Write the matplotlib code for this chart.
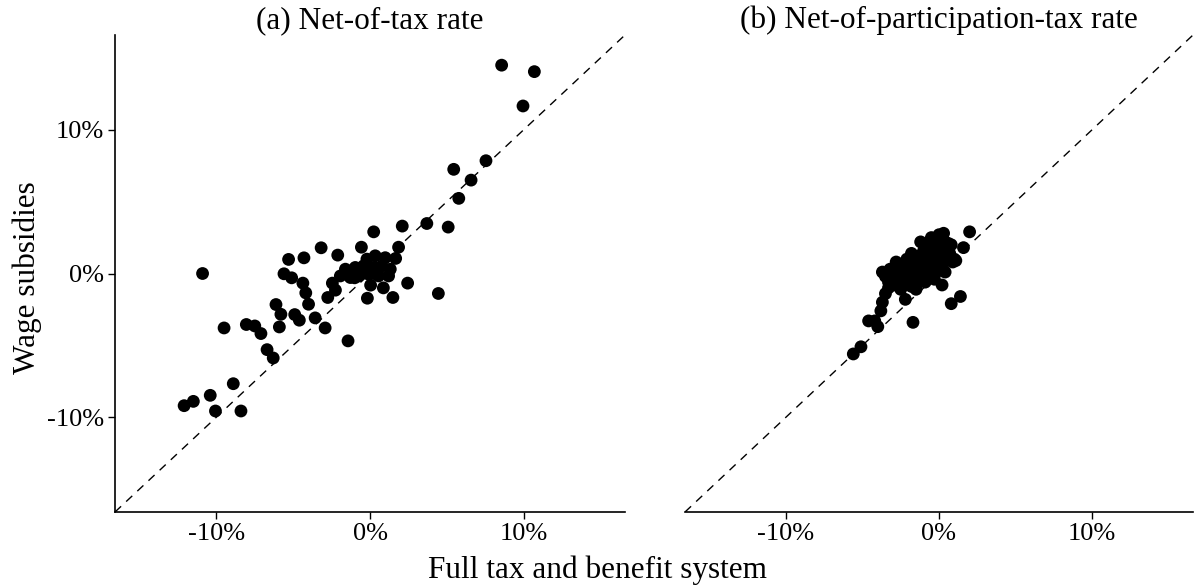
import matplotlib
matplotlib.use("Agg")
import matplotlib.pyplot as plt

plt.rcParams['font.family'] = ['Liberation Serif', 'DejaVu Serif']

titles = ["(a) Net-of-tax rate", "(b) Net-of-participation-tax rate"]
xlabel = "Full tax and benefit system"
ylabel = "Wage subsidies"
tick_vals = [-10, 0, 10]
tick_labels = ["-10%", "0%", "10%"]
lim = 16.6

# Panel (a): (full system, wage subsidies) in %
a_x = [8.57, 10.7, 9.96, 7.55, 5.45, 6.58, 5.78, 2.1, 3.7, 5.09, 0.24, 1.86, -0.56, -3.18,
       -2.1, -4.3, -5.3, -10.9, 1.67, -5.6, -5.1, -4.37, -4.18, -4.0, -6.12, -5.8, -4.9,
       -4.6, -3.57, -2.92, -5.9, -9.5, -8.05, -7.5, -7.1, -6.7, -6.3, -1.43, -8.9, -10.4,
       -11.5, -12.1, -10.06, -8.4, -2.75, -2.45, -2.25, -0.17, 1.49, 2.45, 4.45, 0.87, 0.04,
       -0.2, 0.34, 0.99, -1.6, -0.96, -0.42, 0.24, 0.78, 1.32, -1.93, -1.28, -0.74, -0.09,
       0.56, 1.21, -1.0, 0.3]
a_y = [14.5, 14.05, 11.66, 7.85, 7.25, 6.5, 5.23, 3.3, 3.48, 3.23, 2.9, 1.83, 1.83, 1.79,
       1.28, 1.09, 0.98, 0.0, 1.05, -0.02, -0.3, -0.67, -1.35, -2.14, -2.16, -2.84, -2.86,
       -3.25, -3.09, -3.79, -3.72, -3.79, -3.55, -3.65, -4.18, -5.3, -5.88, -4.69, -7.67, -8.48,
       -8.9, -9.2, -9.57, -9.57, -1.67, -0.67, -1.16, -1.72, -1.67, -0.67, -1.39, -1.0, -0.81,
       1.0, 1.23, 1.1, 0.3, 0.42, 0.53, 0.42, 0.53, 0.3, -0.17, -0.28, -0.17, -0.05,
       -0.17, -0.17, -0.3, 0.0]

# Panel (b)
b_x = [-5.6, -5.1, -4.6, -4.0, -4.2, -3.8, -3.7, -3.5, -3.3, -1.7, -2.2,
       -3.7, -3.5, -3.3, -3.2, -3.0, -2.9, -2.8, -2.7, -2.6, -2.5, -2.4, -2.3, -2.2, -2.1,
       -2.0, -1.9, -1.8, -1.8, -1.7, -1.6, -1.5, -1.4, -1.3, -1.2, -1.2, -1.1, -1.0, -0.9,
       -0.9, -0.8, -0.7, -0.6, -0.6, -0.5, -0.5, -0.4, -0.3, -0.3, -0.2, -0.2, -0.1, 0.0,
       0.0, 0.1, 0.1, 0.2, 0.2, 0.3, 0.3, 0.4, 0.4, 0.5, 0.6, 0.7, 0.8, 0.9, 1.0, 1.1,
       1.4, 0.8, 1.6, 2.0]
b_y = [-5.6, -5.1, -3.3, -3.7, -3.3, -2.6, -2.0, -1.4, -1.0, -3.4, -1.8,
       0.1, -0.2, -0.6, 0.3, -0.3, -0.8, 0.8, 0.2, -0.5, -1.1, 0.5, -0.1, -0.7, 1.0,
       0.3, -0.3, 1.4, -0.9, 0.7, 0.0, -1.1, 1.2, 0.4, 2.2, -0.4, 0.9, 1.6, 0.1,
       -0.6, 1.3, 0.6, 2.0, -0.2, 2.5, 1.0, 0.3, 1.7, -0.4, 2.3, 0.8, 1.3, 2.7,
       0.2, 1.9, 0.6, -0.8, 1.1, 2.8, 2.3, 0.1, 1.6, 0.9, 2.1, 1.4, 2.0, 0.8, 1.0, 0.9,
       -1.6, -2.1, 1.8, 2.9]

fig = plt.figure(figsize=(11.94, 5.88), dpi=100)
W, H = 1194, 588
ax1 = fig.add_axes([115 / W, 1 - 512 / H, 510 / W, 477 / H])
ax2 = fig.add_axes([685 / W, 1 - 512 / H, 508 / W, 477 / H])

for ax, xs, ys, title in [(ax1, a_x, a_y, titles[0]), (ax2, b_x, b_y, titles[1])]:
    ax.plot([-lim, lim], [-lim, lim], color='black', lw=1.0, ls=(0, (6, 5)), zorder=1)
    ax.scatter(xs, ys, s=85, color='black', edgecolors='none', zorder=2)
    ax.set_xlim(-lim, lim)
    ax.set_ylim(-lim, lim)
    ax.set_xticks(tick_vals)
    ax.set_xticklabels(tick_labels)
    ax.set_title(title, fontsize=22.5, pad=4)
    for s in ['top', 'right']:
        ax.spines[s].set_visible(False)
    for s in ['left', 'bottom']:
        ax.spines[s].set_linewidth(1.2)
    ax.tick_params(axis='both', length=5, width=1.0, labelsize=19, direction='out', pad=3)

ax1.set_yticks(tick_vals)
ax1.set_yticklabels(tick_labels)
ax2.set_yticks([])
ax2.spines['left'].set_visible(False)

fig.text(27 / W, 1 - 278 / H, ylabel, fontsize=22.5, ha='center', va='center', rotation=90)
fig.text(597 / W, 1 - 570 / H, xlabel, fontsize=22.5, ha='center', va='center')

fig.savefig("out.png", dpi=100)
